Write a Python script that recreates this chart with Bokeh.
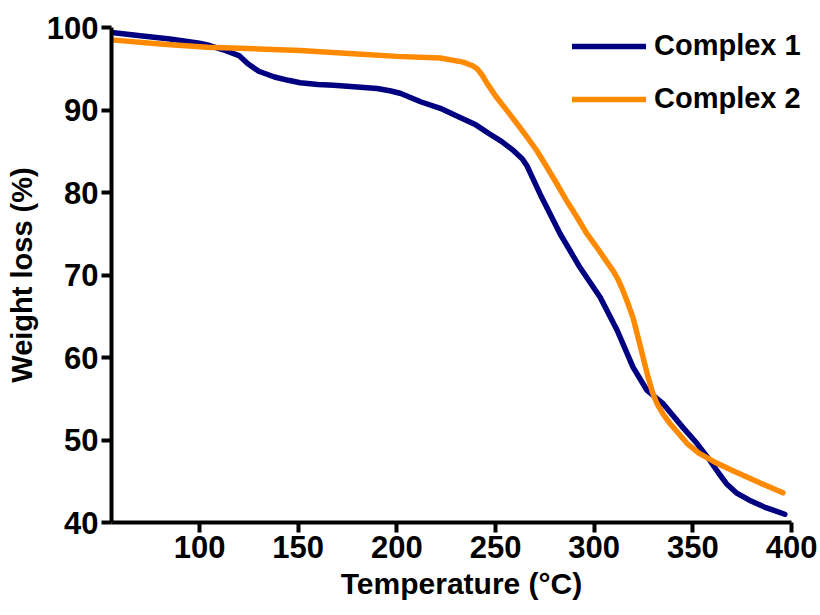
from bokeh.plotting import figure
from bokeh.models import Range1d, FixedTicker, Legend, LegendItem
from bokeh.embed import file_html
from bokeh.resources import INLINE

# Complex 1 (navy)
c1_temp = [55.5, 70, 85, 100, 104, 112, 120, 124.5, 130, 138, 145, 151, 160, 168, 180, 190, 197, 202, 212,
           222, 232, 240, 247, 253, 259, 263.5, 266, 272.6, 282.7, 292.8, 303, 311.6, 319.7, 326.8,
           334.9, 345, 352, 358.7, 363, 367, 372, 378.6, 387, 396.6]
c1_wt = [99.4, 99.0, 98.6, 98.1, 97.9, 97.3, 96.6, 95.6, 94.7, 94.0, 93.6, 93.3, 93.1, 93.0, 92.8, 92.6, 92.3, 92.0, 91.0,
         90.2, 89.1, 88.2, 87.1, 86.2, 85.1, 84.1, 83.2, 79.8, 75.0, 70.9, 67.3, 63.3, 58.8, 56.0,
         54.4, 51.5, 49.6, 47.5, 46.0, 44.7, 43.6, 42.7, 41.8, 41.0]

# Complex 2 (orange)
c2_temp = [55.5, 80, 104, 130, 151, 180, 200, 222, 233.6, 238, 240.7, 243, 245.8, 250, 255.9, 261, 266,
           271.1, 276.2, 281.2, 286, 291.3, 296, 301.5, 305.5, 309.6, 312, 314.6, 317, 319.7, 323, 327.3,
           329.5, 331.8, 335, 338.4, 347, 353, 362, 370, 383, 395.6]
c2_wt = [98.5, 98.0, 97.6, 97.4, 97.2, 96.8, 96.5, 96.3, 95.8, 95.4, 95.0, 94.3, 93.2, 91.7, 89.9, 88.3, 86.7,
         85.0, 83.0, 81.0, 79.0, 77.0, 75.1, 73.3, 71.9, 70.5, 69.5, 68.1, 66.6, 64.8, 61.7, 57.6,
         55.8, 54.4, 53.1, 52.0, 49.6, 48.4, 47.2, 46.3, 44.9, 43.6]

x_ticks = [100, 150, 200, 250, 300, 350, 400]
y_ticks = [40, 50, 60, 70, 80, 90, 100]
series_names = ["Complex 1", "Complex 2"]

FONT = "Liberation Sans"
NAVY = "#000080"
ORANGE = "#FF8A00"

# frame extends a bit past 400 so the legend text is not clipped; the axis line stops at 400
p = figure(width=820, height=615, output_backend="svg", toolbar_location=None,
           x_range=Range1d(55.4, 410.1), y_range=Range1d(40, 100),
           min_border_left=111, min_border_right=9, min_border_top=27, min_border_bottom=93)
p.outline_line_color = None
p.xgrid.visible = False
p.ygrid.visible = False
p.background_fill_color = "white"
p.border_fill_color = "white"

r1 = p.line(c1_temp, c1_wt, line_color=NAVY, line_width=5.5, line_cap="round", line_join="round")
r2 = p.line(c2_temp, c2_wt, line_color=ORANGE, line_width=5.5, line_cap="round", line_join="round")

for ax in (p.xaxis[0], p.yaxis[0]):
    ax.axis_line_width = 4
    ax.axis_line_color = "black"
    ax.major_tick_line_width = 4
    ax.major_tick_line_color = "black"
    ax.major_tick_out = 10
    ax.major_tick_in = 0
    ax.minor_tick_line_color = None
    ax.major_label_text_font = FONT
    ax.major_label_text_font_style = "bold"
    ax.major_label_text_font_size = "31px"
    ax.major_label_text_color = "black"
    ax.axis_label_text_font = FONT
    ax.axis_label_text_font_style = "bold"
    ax.axis_label_text_color = "black"

p.xaxis[0].bounds = (55.4, 400)
p.xaxis[0].ticker = FixedTicker(ticks=x_ticks)
p.yaxis[0].ticker = FixedTicker(ticks=y_ticks)
p.xaxis[0].axis_label = "Temperature (°C)"
p.yaxis[0].axis_label = "Weight loss (%)"
p.xaxis[0].axis_label_text_font_size = "30px"
p.yaxis[0].axis_label_text_font_size = "29px"
p.xaxis[0].major_label_standoff = 3
p.yaxis[0].major_label_standoff = 3
p.xaxis[0].axis_label_standoff = 6
p.yaxis[0].axis_label_standoff = 6

legend = Legend(items=[LegendItem(label=series_names[0], renderers=[r1]),
                       LegendItem(label=series_names[1], renderers=[r2])],
                location=(461, 407), orientation="vertical")
legend.border_line_color = None
legend.background_fill_alpha = 0
legend.label_text_font = FONT
legend.label_text_font_style = "bold"
legend.label_text_font_size = "29px"
legend.label_text_color = "black"
legend.glyph_width = 74
legend.glyph_height = 30
legend.label_standoff = 8
legend.spacing = 20
legend.padding = 0
legend.margin = 0
legend.label_height = 30
p.add_layout(legend)

open("out.html", "w").write(file_html(p, INLINE))
